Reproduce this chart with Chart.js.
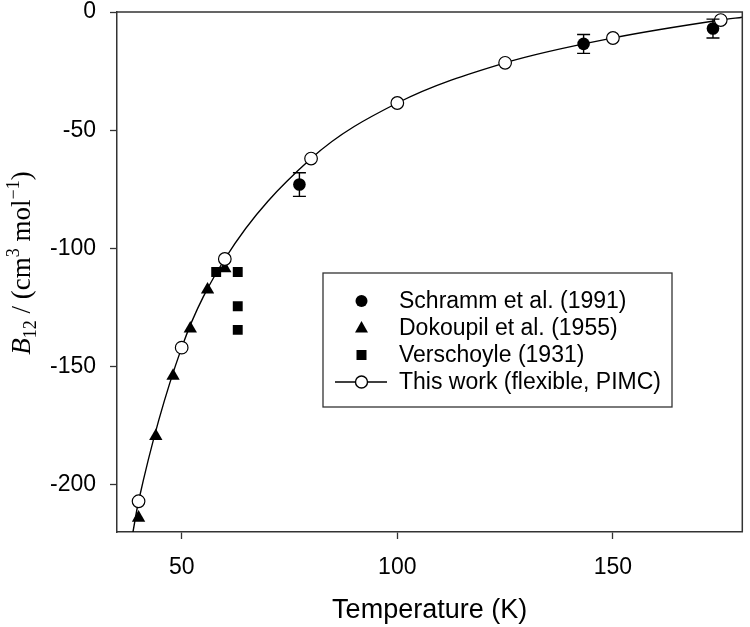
<!DOCTYPE html>
<html>
<head>
<meta charset="utf-8">
<script src="https://cdn.jsdelivr.net/npm/chart.js@4"></script>
<style>
  html, body { margin: 0; padding: 0; background: #fff; }
  #wrap { width: 750px; height: 627px; position: relative; }
</style>
</head>
<body>
<div id="wrap"><canvas id="chart" width="750" height="627"></canvas></div>
<script>
// values
const thisWorkT = [40, 50, 60, 80, 100, 125, 150, 175];
const thisWorkB = [-207, -142, -104.5, -62, -38.5, -21.5, -11, -3.4];

// the fitted line, including where it leaves the frame
const curveT = [38.7, 40, 50, 60, 80, 100, 125, 150, 175, 180];
const curveB = [-220, -207, -142, -104.5, -62, -38.5, -21.5, -11, -3.4, -2.2];

const schrammT = [77.3, 143.2, 173.2];
const schrammB = [-73, -13.5, -7];
const schrammErr = [5, 4, 4];

const dokoupilT = [40, 44, 48, 52, 56, 60];
const dokoupilB = [-214, -179.5, -154, -134, -117.5, -108.5];

const verschoyleT = [58, 63, 63, 63];
const verschoyleB = [-110, -110, -124.5, -134.5];

const xTicks = [50, 100, 150];
const yTicks = [0, -50, -100, -150, -200];

const legendLabels = [
  'Schramm et al. (1991)',
  'Dokoupil et al. (1955)',
  'Verschoyle (1931)',
  'This work (flexible, PIMC)'
];

const AXIS = '#333';
const SANS = '"Liberation Sans", Arial, sans-serif';
const SERIF = '"Liberation Serif", "Times New Roman", serif';

const pts = (xs, ys) => xs.map((x, i) => ({ x: x, y: ys[i] }));

// error bars for the Schramm points
const errorBars = {
  id: 'errorBars',
  afterDatasetsDraw(chart) {
    const xs = chart.scales.x, ys = chart.scales.y;
    const ctx = chart.ctx;
    ctx.save();
    ctx.strokeStyle = '#000';
    ctx.lineWidth = 1.4;
    schrammT.forEach((t, i) => {
      const px = xs.getPixelForValue(t);
      const top = ys.getPixelForValue(schrammB[i] + schrammErr[i]);
      const bot = ys.getPixelForValue(schrammB[i] - schrammErr[i]);
      ctx.beginPath();
      ctx.moveTo(px, top); ctx.lineTo(px, bot);
      ctx.moveTo(px - 6.5, top); ctx.lineTo(px + 6.5, top);
      ctx.moveTo(px - 6.5, bot); ctx.lineTo(px + 6.5, bot);
      ctx.stroke();
    });
    ctx.restore();
  }
};

// frame, axis titles and the boxed legend
const decorations = {
  id: 'decorations',
  afterDraw(chart) {
    const ctx = chart.ctx;
    const a = chart.chartArea;
    ctx.save();

    // top and right edges of the frame
    ctx.strokeStyle = AXIS;
    ctx.lineWidth = 1.5;
    ctx.beginPath();
    ctx.moveTo(a.left, a.top); ctx.lineTo(a.right, a.top); ctx.lineTo(a.right, a.bottom);
    ctx.stroke();

    // x title
    ctx.fillStyle = '#000';
    ctx.font = '27px ' + SANS;
    ctx.textAlign = 'center';
    ctx.textBaseline = 'alphabetic';
    ctx.fillText('Temperature (K)', (a.left + a.right) / 2, 618);

    // y title: B12 / (cm3 mol-1), rotated
    const parts = [
      { t: 'B', f: 'italic 27px ' + SERIF, dy: 0 },
      { t: '12', f: '18px ' + SERIF, dy: 6 },
      { t: ' / (cm', f: '27px ' + SERIF, dy: 0 },
      { t: '3', f: '18px ' + SERIF, dy: -11 },
      { t: ' mol', f: '27px ' + SERIF, dy: 0 },
      { t: '\u22121', f: '18px ' + SERIF, dy: -11 },
      { t: ')', f: '27px ' + SERIF, dy: 0 }
    ];
    let total = 0;
    parts.forEach(p => { ctx.font = p.f; p.w = ctx.measureText(p.t).width; total += p.w; });
    ctx.translate(30, 263);
    ctx.rotate(-Math.PI / 2);
    ctx.textAlign = 'left';
    let cx = -total / 2;
    parts.forEach(p => {
      ctx.font = p.f;
      ctx.fillText(p.t, cx, p.dy);
      cx += p.w;
    });
    ctx.setTransform(1, 0, 0, 1, 0, 0);

    // legend box
    const bx = 323, by = 273, bw = 349, bh = 134;
    ctx.strokeStyle = AXIS;
    ctx.lineWidth = 1.3;
    ctx.strokeRect(bx, by, bw, bh);
    const mx = 361.5, tx = 399, row0 = 301, step = 27;
    ctx.font = '23px ' + SANS;
    ctx.textAlign = 'left';
    ctx.textBaseline = 'middle';
    ctx.fillStyle = '#000';
    legendLabels.forEach((lab, i) => {
      const y = row0 + i * step;
      ctx.fillText(lab, tx, y + 1);
      ctx.beginPath();
      if (i === 0) {
        ctx.arc(mx, y, 6, 0, Math.PI * 2);
        ctx.fill();
      } else if (i === 1) {
        ctx.moveTo(mx, y - 7); ctx.lineTo(mx + 6.5, y + 4.5); ctx.lineTo(mx - 6.5, y + 4.5);
        ctx.closePath(); ctx.fill();
      } else if (i === 2) {
        ctx.rect(mx - 5, y - 5, 10, 10); ctx.fill();
      } else {
        ctx.strokeStyle = '#000';
        ctx.lineWidth = 1.4;
        ctx.moveTo(335, y); ctx.lineTo(387, y); ctx.stroke();
        ctx.beginPath();
        ctx.arc(mx, y, 6, 0, Math.PI * 2);
        ctx.fillStyle = '#fff'; ctx.fill();
        ctx.stroke();
        ctx.fillStyle = '#000';
      }
    });
    ctx.restore();
  }
};

new Chart(document.getElementById('chart'), {
  type: 'scatter',
  data: {
    datasets: [
      {
        label: 'fit',
        data: pts(curveT, curveB),
        showLine: true,
        borderColor: '#000',
        borderWidth: 1.4,
        pointRadius: 0,
        cubicInterpolationMode: 'monotone',
        order: 5
      },
      {
        label: legendLabels[2],
        data: pts(verschoyleT, verschoyleB),
        pointStyle: 'rect',
        pointRadius: 7,
        backgroundColor: '#000',
        borderColor: '#000',
        borderWidth: 0,
        order: 4
      },
      {
        label: legendLabels[1],
        data: pts(dokoupilT, dokoupilB),
        pointStyle: 'triangle',
        pointRadius: 7.7,
        backgroundColor: '#000',
        borderColor: '#000',
        borderWidth: 0,
        order: 3
      },
      {
        label: legendLabels[0],
        data: pts(schrammT, schrammB),
        pointStyle: 'circle',
        pointRadius: 6.3,
        backgroundColor: '#000',
        borderColor: '#000',
        borderWidth: 0,
        order: 2
      },
      {
        label: legendLabels[3],
        data: pts(thisWorkT, thisWorkB),
        pointStyle: 'circle',
        pointRadius: 6.3,
        backgroundColor: '#fff',
        borderColor: '#000',
        borderWidth: 1.2,
        order: 1
      }
    ]
  },
  options: {
    responsive: false,
    animation: false,
    layout: { padding: { top: 12, right: 7, left: 0, bottom: 0 } },
    plugins: { legend: { display: false }, tooltip: { enabled: false } },
    scales: {
      x: {
        type: 'linear',
        min: 35,
        max: 180,
        afterFit(scale) {
          scale.height = 95;
          scale.paddingLeft = 0; scale.paddingRight = 0;
        },
        afterBuildTicks(scale) { scale.ticks = xTicks.map(v => ({ value: v })); },
        grid: { display: true, drawOnChartArea: false, drawTicks: true, tickLength: 7, tickColor: AXIS, tickWidth: 1.3 },
        border: { display: true, color: AXIS, width: 1.5 },
        ticks: { color: '#000', font: { family: SANS, size: 23 }, padding: 15, callback: v => String(v) }
      },
      y: {
        type: 'linear',
        min: -220,
        max: 0,
        afterFit(scale) {
          scale.width = 117;
          scale.paddingTop = 0; scale.paddingBottom = 0;
        },
        afterBuildTicks(scale) { scale.ticks = yTicks.map(v => ({ value: v })); },
        grid: { display: true, drawOnChartArea: false, drawTicks: true, tickLength: 7, tickColor: AXIS, tickWidth: 1.3 },
        border: { display: true, color: AXIS, width: 1.5 },
        ticks: { color: '#000', font: { family: SANS, size: 23 }, padding: 14, callback: v => String(v) }
      }
    }
  },
  plugins: [errorBars, decorations]
});
</script>
</body>
</html>
